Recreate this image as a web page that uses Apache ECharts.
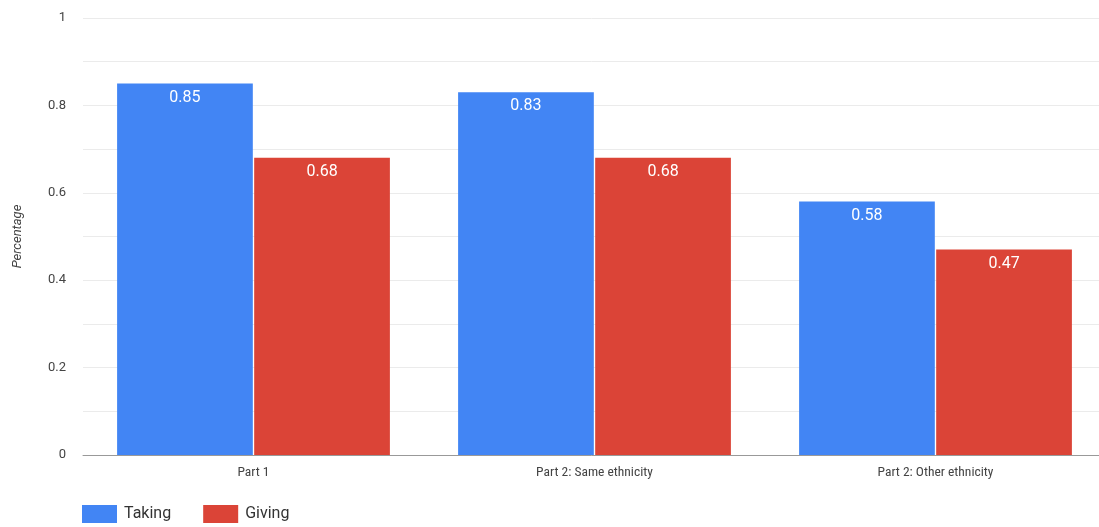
<!DOCTYPE html>
<html>
<head>
<meta charset="utf-8">
<script src="https://cdn.jsdelivr.net/npm/echarts@6/dist/echarts.min.js"></script>
<style>html,body{margin:0;padding:0;background:#fff}#c{width:1099px;height:527px}</style>
</head>
<body>
<div id="c"></div>
<script>
var categories = ['Part 1', 'Part 2: Same ethnicity', 'Part 2: Other ethnicity'];
var takingValues = [0.85, 0.83, 0.58];
var givingValues = [0.68, 0.68, 0.47];
var seriesNames = ['Taking', 'Giving'];
var yTicks = [0, 0.2, 0.4, 0.6, 0.8, 1];

var chart = echarts.init(document.getElementById('c'));
var labelStyle = {
  show: true, position: 'insideTop', distance: 6, color: '#fff',
  fontFamily: 'Roboto', fontSize: 16
};
chart.setOption({
  animation: false,
  textStyle: { fontFamily: 'Roboto' },
  grid: { left: 83, width: 1023, top: 18, bottom: 72, outerBoundsMode: 'none', containLabel: false },
  legend: {
    left: 77, top: 500, itemWidth: 35, itemHeight: 18, itemGap: 32,
    icon: 'rect',
    textStyle: { fontSize: 16, color: '#333', fontFamily: 'Roboto', padding: [3, 0, 0, 2] },
    data: seriesNames
  },
  xAxis: {
    type: 'category', data: categories,
    axisTick: { show: false },
    axisLine: { lineStyle: { color: '#999', width: 1 } },
    axisLabel: { color: '#444', fontSize: 13.5, margin: 11,
      fontFamily: '"Roboto Condensed", "Liberation Sans Narrow", "DejaVu Sans Condensed", Roboto' }
  },
  yAxis: {
    type: 'value', min: 0, max: 1, interval: 0.1,
    name: 'Percentage', nameLocation: 'middle', nameGap: 59,
    nameTextStyle: { fontStyle: 'italic', color: '#444', fontSize: 13, fontFamily: 'Roboto' },
    axisLine: { show: false }, axisTick: { show: false },
    axisLabel: {
      color: '#444', fontSize: 13, margin: 17, fontFamily: 'Roboto',
      formatter: function (v) {
        for (var i = 0; i < yTicks.length; i++) {
          if (Math.abs(yTicks[i] - v) < 1e-6) return String(yTicks[i]);
        }
        return '';
      }
    },
    splitLine: { lineStyle: { color: '#ebebeb', width: 1 } }
  },
  series: [
    { name: seriesNames[0], type: 'bar', data: takingValues, barGap: '1%', barCategoryGap: '20%',
      itemStyle: { color: '#4285f4' }, label: labelStyle },
    { name: seriesNames[1], type: 'bar', data: givingValues,
      itemStyle: { color: '#db4437' }, label: labelStyle }
  ]
});
</script>
</body>
</html>
